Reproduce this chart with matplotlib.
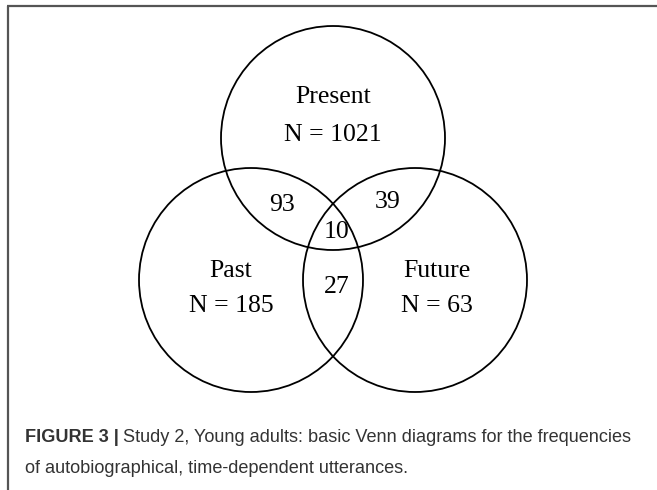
import matplotlib
matplotlib.use("Agg")
import matplotlib.pyplot as plt
from matplotlib.patches import Circle

# Data
set_names = ["Present", "Past", "Future"]
set_totals = [1021, 185, 63]
overlap_labels = ["Present∩Past", "Present∩Future", "All", "Past∩Future"]
overlap_values = [93, 39, 10, 27]

W, H = 657, 490
fig = plt.figure(figsize=(W / 100, H / 100), dpi=100)
ax = fig.add_axes([0, 0, 1, 1])
ax.set_xlim(0, W)
ax.set_ylim(H, 0)
ax.set_aspect("equal")
ax.axis("off")

# frame
ax.plot([7.5, 7.5], [H, 6.5], color="#555555", lw=1.6, solid_capstyle="butt")
ax.plot([6.7, W], [6.5, 6.5], color="#555555", lw=1.6, solid_capstyle="butt")

r = 112
centers = {"Present": (333, 138), "Past": (251, 280), "Future": (415, 280)}
for name in set_names:
    ax.add_patch(Circle(centers[name], r, fill=False, ec="black", lw=1.3))

serif = "Liberation Serif"
fs = 18.5
label_pos = {"Present": (333, 97, 135), "Past": (231, 271, 306), "Future": (437, 271, 306)}
for name, tot in zip(set_names, set_totals):
    x, y1, y2 = label_pos[name]
    ax.text(x, y1, name, ha="center", va="center", fontsize=fs, family=serif)
    ax.text(x, y2, f"N = {tot}", ha="center", va="center", fontsize=fs, family=serif)

ov_pos = [(282, 205), (388, 202), (337, 232), (337, 287)]
for (x, y), v in zip(ov_pos, overlap_values):
    ax.text(x, y, str(v), ha="center", va="center", fontsize=fs, family=serif)

# caption
cap_col = "#333333"
sans = "Liberation Sans"
cfs = 13.1
t1 = ax.text(25, 437, "FIGURE 3 |", ha="left", va="center", fontsize=cfs,
             family=sans, weight="bold", color=cap_col)
fig.canvas.draw()
bb = t1.get_window_extent()
x_end = bb.x1
ax.text(x_end + 4, 437, "Study 2, Young adults: basic Venn diagrams for the frequencies",
        ha="left", va="center", fontsize=cfs, family=sans, color=cap_col,
        transform=matplotlib.transforms.blended_transform_factory(
            matplotlib.transforms.IdentityTransform(), ax.transData))
ax.text(25, 468, "of autobiographical, time-dependent utterances.",
        ha="left", va="center", fontsize=cfs, family=sans, color=cap_col)

fig.savefig("out.png", dpi=100)
